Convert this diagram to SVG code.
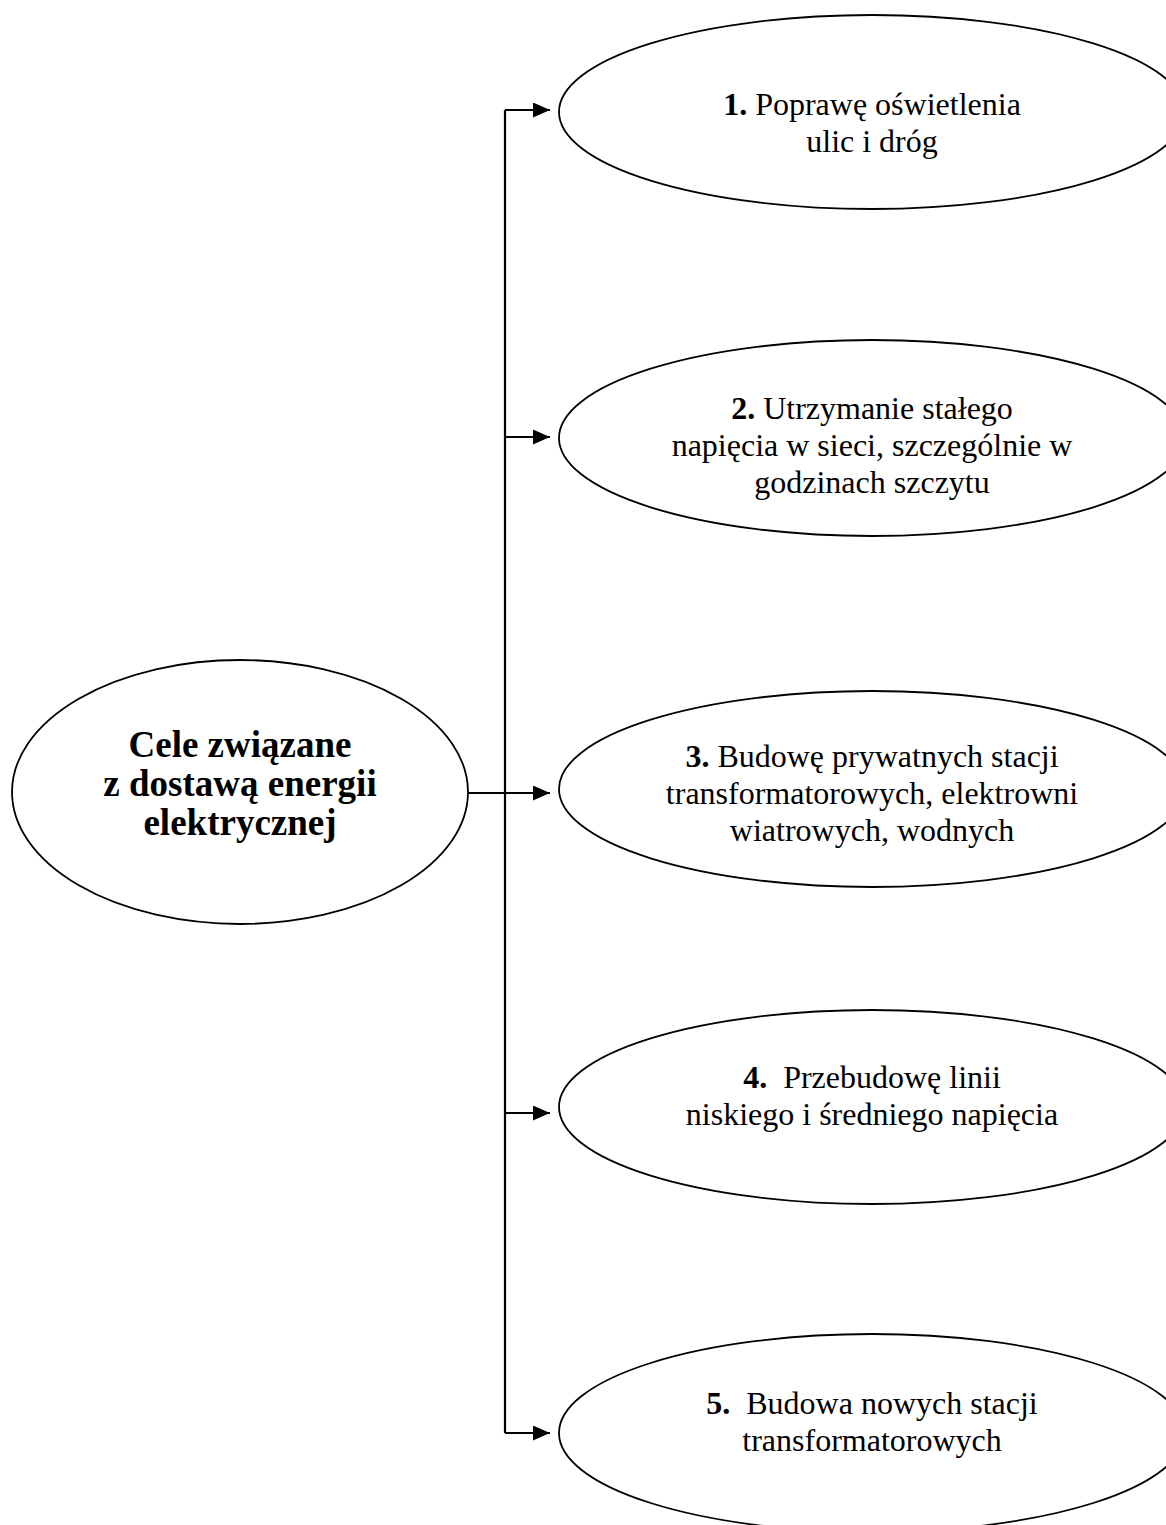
<svg xmlns="http://www.w3.org/2000/svg" width="1166" height="1525" viewBox="0 0 1166 1525">
<style>
.node{fill:#fff;stroke:#000;stroke-width:1.8}
.t{font-family:"Liberation Serif","Times New Roman",serif;font-size:32px;fill:#000;text-anchor:middle}
.tt{font-family:"Liberation Serif","Times New Roman",serif;font-size:37px;font-weight:bold;fill:#000;text-anchor:middle}
.b{font-weight:bold}
.c{fill:none;stroke:#000;stroke-width:2.2}
</style>
<defs>
<marker id="ah" markerWidth="17" markerHeight="15" refX="17" refY="7.5" orient="auto" markerUnits="userSpaceOnUse">
<path d="M0,0 L17,7.5 L0,15 Z" fill="#000"/>
</marker>
</defs>
<rect width="1166" height="1525" fill="#fff"/>
<g id="connectors">
<path class="c" d="M505,110 L505,1433"/>
<path class="c" d="M505,110 L550,110" marker-end="url(#ah)"/>
<path class="c" d="M505,437 L550,437" marker-end="url(#ah)"/>
<path class="c" d="M468,793 L550,793" marker-end="url(#ah)"/>
<path class="c" d="M505,1113 L550,1113" marker-end="url(#ah)"/>
<path class="c" d="M505,1433 L550,1433" marker-end="url(#ah)"/>
</g>
<g id="center">
<ellipse class="node" cx="240" cy="792" rx="228" ry="132"/>
<text class="tt" x="240" y="757">Cele związane</text>
<text class="tt" x="240" y="796">z dostawą energii</text>
<text class="tt" x="240" y="835">elektrycznej</text>
</g>
<g id="n1">
<ellipse class="node" cx="872" cy="112" rx="313" ry="97"/>
<text class="t" x="872" y="115"><tspan class="b">1.</tspan> Poprawę oświetlenia</text>
<text class="t" x="872" y="152">ulic i dróg</text>
</g>
<g id="n2">
<ellipse class="node" cx="872" cy="438" rx="313" ry="98"/>
<text class="t" x="872" y="419"><tspan class="b">2.</tspan> Utrzymanie stałego</text>
<text class="t" x="872" y="456">napięcia w sieci, szczególnie w</text>
<text class="t" x="872" y="493">godzinach szczytu</text>
</g>
<g id="n3">
<ellipse class="node" cx="872" cy="789" rx="313" ry="98"/>
<text class="t" x="872" y="767"><tspan class="b">3.</tspan> Budowę prywatnych stacji</text>
<text class="t" x="872" y="804">transformatorowych, elektrowni</text>
<text class="t" x="872" y="841">wiatrowych, wodnych</text>
</g>
<g id="n4">
<ellipse class="node" cx="872" cy="1107" rx="313" ry="97"/>
<text class="t" x="872" y="1088"><tspan class="b">4.</tspan>&#160; Przebudowę linii</text>
<text class="t" x="872" y="1125">niskiego i średniego napięcia</text>
</g>
<g id="n5">
<ellipse class="node" cx="872" cy="1433" rx="313" ry="99"/>
<text class="t" x="872" y="1414"><tspan class="b">5.</tspan>&#160; Budowa nowych stacji</text>
<text class="t" x="872" y="1451">transformatorowych</text>
</g>
</svg>
